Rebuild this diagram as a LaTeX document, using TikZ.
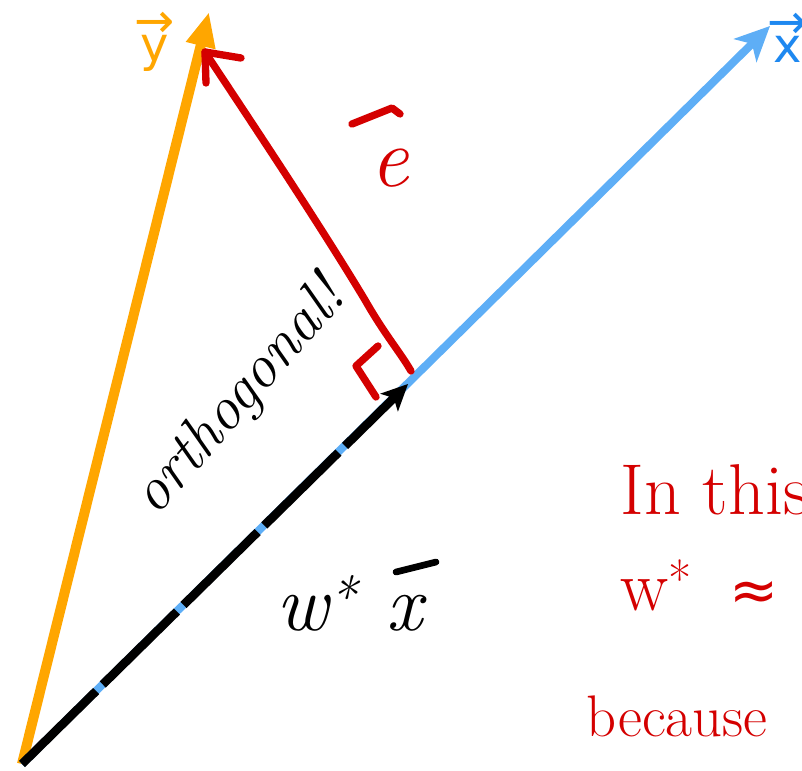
\documentclass[tikz,border=0pt]{standalone}
\usepackage{fontspec}
\newfontfamily\labelfont{DejaVu Sans}
\usetikzlibrary{arrows.meta,calc}
\definecolor{yorange}{HTML}{FFA600}
\definecolor{xblue}{HTML}{5EAEF6}
\definecolor{xlabel}{HTML}{1E88F0}
\definecolor{ered}{HTML}{D40000}
\tikzset{
  vecline/.style={line width=7.5pt, line cap=butt},
  redpen/.style={ered, line width=5.5pt, line cap=round, line join=round},
  blackpen/.style={black, line width=5pt, line cap=round},
  veclabel/.style={inner sep=0pt, align=center, font=\labelfont\fontsize{36}{30}\selectfont},
}
\begin{document}
\begin{tikzpicture}[x=0.75pt,y=-0.75pt]
\useasboundingbox (0,0) rectangle (802,770);
\clip (0,0) rectangle (802,770);
% key points
\coordinate (O) at (22,764);
\coordinate (Y) at (209,12);
\coordinate (X) at (770,26);
\coordinate (P) at (408,384);
\coordinate (E0) at (411,371);
\coordinate (E1) at (205,52);
\coordinate (Ea) at (241,58);
\coordinate (Eb) at (206,83);
\coordinate (R0) at (378,346);
\coordinate (R1) at (356,366);
\coordinate (R2) at (376,397);
% y vector
\draw[yorange, vecline, -{Triangle[length=26pt,width=21pt]}] (O) -- (Y);
% x vector
\draw[xblue, line width=6pt, -{Stealth[length=26pt,width=24pt,inset=7pt]}] (O) -- (X);
% w* x vector (black, dashed over blue)
\draw[black, line width=6.5pt, dash pattern=on 78pt off 7pt, shorten >=12pt] (O) -- (P);
\draw[black, line width=0pt, -{Stealth[length=20pt,width=19pt,inset=5pt]}] ($(O)!0.9!(P)$) -- (P);
% error vector e
\draw[redpen] (E0) .. controls (400,352) and (385,335) .. (365,300) .. controls (320,225) and (250,120) .. (E1);
\draw[redpen] (Ea) -- (E1) -- (Eb);
% right angle mark
\draw[redpen] (R0) -- (R1) -- (R2);
% labels
\node[yorange, veclabel] (ly) at (155,42) {→\\[-12pt]y};
\node[xlabel, veclabel] (lx) at (788,38) {→\\[-12pt]x};
% e with bar
\node[ered, font=\itshape\fontsize{64}{66}\selectfont] (le) at (390,168) {e};
\coordinate (eb0) at (352,124);
\coordinate (eb1) at (392,108);
\coordinate (eb2) at (400,114);
\draw[redpen] (eb0) -- (eb1) -- (eb2);
\node[black, font=\itshape\fontsize{46}{48}\selectfont, rotate=49] (orth) at (240,398) {orthogonal!};
% w* x with bar
\node[black, font=\itshape\fontsize{60}{62}\selectfont, anchor=base west] (wx) at (272,630) {w\textsuperscript{*}\hspace{22pt}x};
\coordinate (xb0) at (396,572);
\coordinate (xb1) at (436,562);
\draw[blackpen] (xb0) -- (xb1);
% right-hand notes
\node[ered, font=\fontsize{54}{56}\selectfont, anchor=base west] (t1) at (616,514) {In this};
\node[ered, font=\fontsize{54}{56}\selectfont, anchor=base west] (t2) at (616,610) {w\textsuperscript{*}\hspace{28pt}{\labelfont\fontsize{44}{46}\selectfont ≈}};
\node[ered, font=\fontsize{44}{46}\selectfont, anchor=base west] (t3) at (582,736) {because};
\end{tikzpicture}
\end{document}
